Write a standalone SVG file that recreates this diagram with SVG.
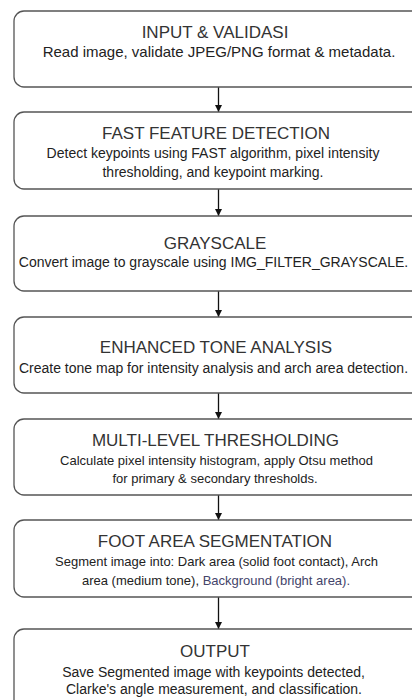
<svg xmlns="http://www.w3.org/2000/svg" width="412" height="700" viewBox="0 0 412 700">
<defs>
<style>
.box{fill:#fff;stroke:#555;stroke-width:1.3}
.t{font-family:"Liberation Sans",Arial,sans-serif;font-size:17px;fill:#333;text-anchor:middle}
.b{font-family:"Liberation Sans",Arial,sans-serif;fill:#222;text-anchor:middle}
.c{stroke:#111;stroke-width:1.3;fill:none}
</style>
<marker id="ah" viewBox="0 0 10 10" refX="10" refY="5" markerWidth="7" markerHeight="7" orient="auto" markerUnits="userSpaceOnUse">
<path d="M0,0 L10,5 L0,10 Z" fill="#111"/>
</marker>
</defs>
<rect width="412" height="700" fill="#fff"/>
<g id="connectors">
<line class="c" x1="218.5" y1="87" x2="218.5" y2="112" marker-end="url(#ah)"/>
<line class="c" x1="218.5" y1="189" x2="218.5" y2="216" marker-end="url(#ah)"/>
<line class="c" x1="218.5" y1="291" x2="218.5" y2="317" marker-end="url(#ah)"/>
<line class="c" x1="218.5" y1="393" x2="218.5" y2="419" marker-end="url(#ah)"/>
<line class="c" x1="218.5" y1="495" x2="218.5" y2="520" marker-end="url(#ah)"/>
<line class="c" x1="218.5" y1="597" x2="218.5" y2="629" marker-end="url(#ah)"/>
</g>
<g id="n1">
<rect class="box" x="14" y="11" width="412" height="76" rx="10"/>
<text class="t" x="215" y="38">INPUT &amp; VALIDASI</text>
<text class="b" x="219" y="57" font-size="15">Read image, validate JPEG/PNG format &amp; metadata.</text>
</g>
<g id="n2">
<rect class="box" x="14" y="112" width="412" height="77" rx="10"/>
<text class="t" x="216" y="139">FAST FEATURE DETECTION</text>
<text class="b" x="213" y="158" font-size="14">Detect keypoints using FAST algorithm, pixel intensity</text>
<text class="b" x="213" y="177" font-size="14">thresholding, and keypoint marking.</text>
</g>
<g id="n3">
<rect class="box" x="14" y="216" width="412" height="75" rx="10"/>
<text class="t" x="215" y="249">GRAYSCALE</text>
<text class="b" x="213.5" y="267" font-size="14">Convert image to grayscale using IMG_FILTER_GRAYSCALE.</text>
</g>
<g id="n4">
<rect class="box" x="14" y="317" width="412" height="76" rx="10"/>
<text class="t" x="216" y="353">ENHANCED TONE ANALYSIS</text>
<text class="b" x="213.5" y="372.5" font-size="14">Create tone map for intensity analysis and arch area detection.</text>
</g>
<g id="n5">
<rect class="box" x="14" y="419" width="412" height="76" rx="10"/>
<text class="t" x="215.5" y="446">MULTI-LEVEL THRESHOLDING</text>
<text class="b" x="216.5" y="465" font-size="13">Calculate pixel intensity histogram, apply Otsu method</text>
<text class="b" x="215" y="483" font-size="13">for primary &amp; secondary thresholds.</text>
</g>
<g id="n6">
<rect class="box" x="14" y="520" width="412" height="77" rx="10"/>
<text class="t" x="215" y="547">FOOT AREA SEGMENTATION</text>
<text class="b" x="216.5" y="566" font-size="13">Segment image into: Dark area (solid foot contact), Arch</text>
<text class="b" x="216" y="585" font-size="13">area (medium tone), <tspan fill="#44446a">Background (bright area).</tspan></text>
</g>
<g id="n7">
<rect class="box" x="14" y="629" width="412" height="90" rx="10"/>
<text class="t" x="215" y="657">OUTPUT</text>
<text class="b" x="213.5" y="677" font-size="14">Save Segmented image with keypoints detected,</text>
<text class="b" x="214" y="694" font-size="14">Clarke's angle measurement, and classification.</text>
</g>
</svg>
